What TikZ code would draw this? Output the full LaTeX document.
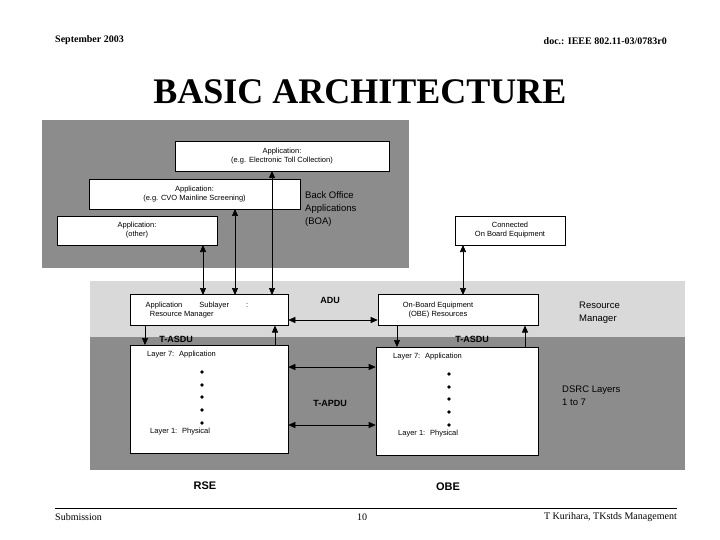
\documentclass[tikz,border=0pt]{standalone}
\usepackage{fontspec}
\setmainfont{Liberation Serif}
\setsansfont{Liberation Sans}
\usetikzlibrary{arrows.meta}
\definecolor{dg}{RGB}{140,140,140}
\definecolor{lg}{RGB}{217,217,217}
\begin{document}
\begin{tikzpicture}[x=1pt,y=-1pt,
  bx/.style={draw=black,fill=white,line width=0.6pt},
  tx/.style={font=\sffamily\fontsize{7.5}{9}\selectfont,align=left,inner sep=0},
  lb/.style={font=\sffamily\fontsize{9.5}{13}\selectfont,align=left,inner sep=0,anchor=west},
  bl/.style={font=\sffamily\bfseries\fontsize{9}{11}\selectfont,inner sep=0},
  ar/.style={-{Triangle[length=7pt,width=6pt]},line width=0.6pt},
  dar/.style={{Triangle[length=7pt,width=6pt]}-{Triangle[length=7pt,width=6pt]},line width=0.6pt}]
\useasboundingbox (0,0) rectangle (720,540);
\fill[white] (0,0) rectangle (720,540);
\node[font=\bfseries\fontsize{10}{12}\selectfont,anchor=west,inner sep=0] (hl) at (55,40) {September 2003};
\node[font=\bfseries\fontsize{10}{12}\selectfont,anchor=east,inner sep=0] (hr) at (667,41) {doc.: IEEE 802.11-03/0783r0};
\node[font=\bfseries\fontsize{36}{40}\selectfont,inner sep=0] (title) at (360,92) {BASIC ARCHITECTURE};
% backgrounds
\fill[dg] (42,120) rectangle (409,268);
\fill[lg] (90,281) rectangle (685,337);
\fill[dg] (90,337) rectangle (685,470);
% BOA boxes
\node[bx,minimum width=214,minimum height=30,inner sep=0] (etc) at (282,156) {};
\node[tx,align=center] (etct) at (etc) {Application:\\ (e.g. Electronic Toll Collection)};
\node[bx,minimum width=211,minimum height=30,inner sep=0] (cvo) at (194.5,194) {};
\node[tx,align=center] (cvot) at (cvo) {Application:\\ (e.g. CVO Mainline Screening)};
\node[bx,minimum width=160,minimum height=29,inner sep=0] (oth) at (137,230.5) {};
\node[tx,align=center] (otht) at (oth) {Application:\\ (other)};
\node[lb] (boa) at (305,209) {Back Office\\Applications\\(BOA)};
\node[bx,minimum width=110,minimum height=29,inner sep=0] (cobe) at (510,230.5) {};
\node[tx,align=center] (cobet) at (cobe) {Connected\\On Board Equipment};
% resource manager
\node[bx,minimum width=158,minimum height=31,inner sep=0] (asl) at (209,310) {};
\node[tx] (aslt) at (197,310) {Application \quad\quad Sublayer \quad\quad :\\ \ \ Resource Manager};
\node[bx,minimum width=160,minimum height=31,inner sep=0] (obr) at (458,310) {};
\node[tx,align=center] (obrt) at (438,310) {On-Board Equipment\\(OBE) Resources};
\node[lb] (rm) at (579,313) {Resource\\Manager};
% layer boxes
\node[bx,minimum width=158,minimum height=108,inner sep=0] (rse) at (209,399) {};
\node[bx,minimum width=162,minimum height=108,inner sep=0] (obe) at (457,401) {};
\node[tx,anchor=west] (l7a) at (147,355) {Layer 7: \ Application};
\node[tx,anchor=west] (l1a) at (150,432) {Layer 1: \ Physical};
\node[tx,anchor=west] (l7b) at (393,357) {Layer 7: \ Application};
\node[tx,anchor=west] (l1b) at (398,434) {Layer 1: \ Physical};
\foreach \y in {372,385,397,410,423} {\fill (202,\y) circle (1.8); \fill (449,\y+2) circle (1.8);}
\node[lb] (dsrc) at (562,396) {DSRC Layers\\1 to 7};
% labels
\node[bl] (adu) at (330,300) {ADU};
\node[bl] (tasdu1) at (176,339) {T-ASDU};
\node[bl] (tasdu2) at (472,339) {T-ASDU};
\node[bl] (tapdu) at (330,403) {T-APDU};
\node[font=\sffamily\bfseries\fontsize{11}{13}\selectfont,inner sep=0] (rsel) at (205,486) {RSE};
\node[font=\sffamily\bfseries\fontsize{11}{13}\selectfont,inner sep=0] (obel) at (448,487) {OBE};
% arrows
\draw[dar] (203,245) -- (203,295);
\draw[dar] (235,209) -- (235,295);
\draw[dar] (272,171) -- (272,295);
\draw[dar] (463,245) -- (463,295);
\draw[dar] (asl.east |- 0,320) -- (obr.west |- 0,320);
\draw[ar] (145,325.5) -- (145,345);
\draw[ar] (275,345) -- (275,325.5);
\draw[ar] (397,325.5) -- (397,347);
\draw[ar] (525,347) -- (525,325.5);
\draw[dar] (rse.east |- 0,367) -- (obe.west |- 0,367);
\draw[dar] (rse.east |- 0,425) -- (obe.west |- 0,425);
% footer
\draw[line width=0.8pt] (55,508) -- (677,508);
\node[font=\fontsize{10}{12}\selectfont,anchor=west,inner sep=0] (sub) at (55,517) {Submission};
\node[font=\fontsize{10}{12}\selectfont,inner sep=0] (pg) at (362,517) {10};
\node[font=\fontsize{10}{12}\selectfont,anchor=east,inner sep=0] (auth) at (677,517) {T Kurihara, TKstds Management};
\end{tikzpicture}
\end{document}
